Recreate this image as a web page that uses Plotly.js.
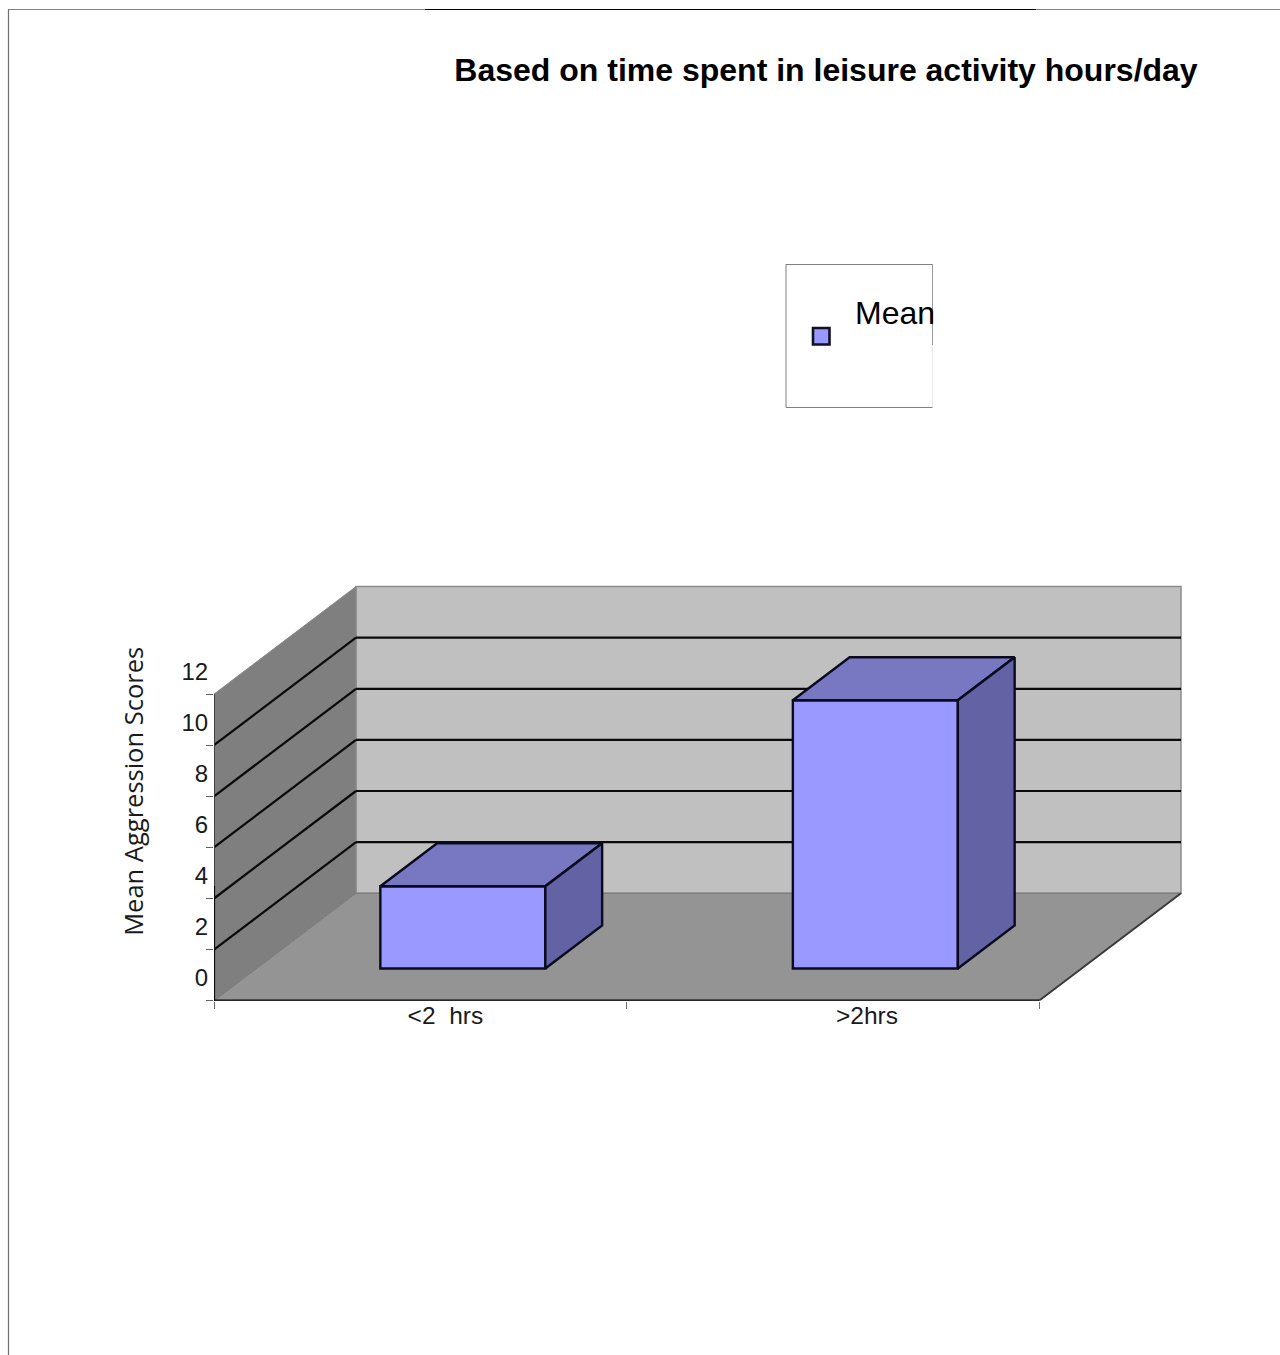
<!DOCTYPE html>
<html>
<head>
<meta charset="utf-8">
<script src="https://cdn.plot.ly/plotly-3.0.1.min.js"></script>
<style>html,body{margin:0;padding:0;background:#fff}#chart{width:1280px;height:1355px}</style>
</head>
<body>
<div id="chart"></div>
<script>
// Data
const categories = ['<2\u00a0\u00a0hrs', '>2hrs'];
const meanValues = [3.22, 10.5];
const seriesName = 'Mean';
const yTicks = [0, 2, 4, 6, 8, 10, 12];
const gridValues = [2, 4, 6, 8, 10];
const groupEdges = [0, 1, 2];
const labelPositions = [0.561, 1.583];

// Layout of the pseudo-3D box
const W = 1280, H = 1355;
const pxLeft = 214, pxRight = 1186, pxBottom = 1000.7, pxTop = 582;
const pxPerX = 412.5, pxPerY = 25.55;
const depthX = 142 / pxPerX, depthY = 107.5 / pxPerY;
const barWidth = 0.4, barFrontDepth = 0.3, barDepth = 0.4;
const yMax = 12, xMax = 2;

const poly = (pts, fill, lineColor, lineWidth) => ({
  type: 'path', xref: 'x', yref: 'y', layer: 'below',
  path: 'M' + pts.map(p => p[0] + ',' + p[1]).join('L') + 'Z',
  fillcolor: fill, line: {color: lineColor, width: lineWidth}
});
const seg = (a, b, color, width) => ({
  type: 'line', xref: 'x', yref: 'y', layer: 'below',
  x0: a[0], y0: a[1], x1: b[0], y1: b[1], line: {color, width}
});
const paperLine = (x0, y0, x1, y1, color, width) => ({
  type: 'line', xref: 'paper', yref: 'paper',
  x0: x0 / W, y0: 1 - y0 / H, x1: x1 / W, y1: 1 - y1 / H, line: {color, width}
});

const shapes = [
  poly([[depthX, depthY], [xMax + depthX, depthY], [xMax + depthX, yMax + depthY], [depthX, yMax + depthY]], '#c0c0c0', '#8c8c8c', 1.5),
  poly([[0, 0], [depthX, depthY], [depthX, yMax + depthY], [0, yMax]], '#7f7f7f', '#8a8a8a', 1),
  poly([[0, 0], [xMax, 0], [xMax + depthX, depthY], [depthX, depthY]], '#949494', '#777777', 1),
  seg([xMax, 0], [xMax + depthX, depthY], '#3a3a3a', 2)
];
gridValues.forEach(v => {
  shapes.push(seg([0, v], [depthX, v + depthY], '#0a0a0a', 2.2));
  shapes.push(seg([depthX, v + depthY], [xMax + depthX, v + depthY], '#0a0a0a', 2.2));
});

// Page frame and legend box
shapes.push(paperLine(8, 9.5, 425, 9.5, '#808080', 1.2));
shapes.push(paperLine(425, 9.5, 1036, 9.5, '#000000', 1.2));
shapes.push(paperLine(1036, 9.5, 1280, 9.5, '#808080', 1.2));
shapes.push(paperLine(8.5, 9, 8.5, 1355, '#707070', 1.2));
shapes.push(paperLine(786, 264.5, 932.5, 264.5, '#808080', 1));
shapes.push(paperLine(786, 264, 786, 407.5, '#808080', 1));
shapes.push(paperLine(786, 407.5, 932.5, 407.5, '#808080', 1));
shapes.push(paperLine(932.5, 264, 932.5, 345, '#9a9a9a', 1));
shapes.push(paperLine(932.5, 345, 932.5, 407, '#e8e8e8', 1));
shapes.push({
  type: 'rect', xref: 'paper', yref: 'paper',
  x0: 813 / W, x1: 829.5 / W, y0: 1 - 344.5 / H, y1: 1 - 328 / H,
  fillcolor: '#9999ff', line: {color: '#111122', width: 2.6}
});

const barX = groupEdges.slice(0, 2).map(e => e + 0.5 + barFrontDepth * depthX);
const barBase = barFrontDepth * depthY;
const ddx = barDepth * depthX, ddy = barDepth * depthY;
const edgeColor = '#0a0a1e';

const traces = [{
  type: 'bar', name: seriesName, x: barX, y: meanValues,
  base: meanValues.map(() => barBase), width: barWidth,
  marker: {color: '#9999ff', line: {color: edgeColor, width: 2.4}},
  showlegend: false, hoverinfo: 'y'
}];
const face = (pts, color) => ({
  type: 'scatter', mode: 'lines', fill: 'toself', fillcolor: color,
  x: pts.map(p => p[0]), y: pts.map(p => p[1]),
  line: {color: edgeColor, width: 2.4}, showlegend: false, hoverinfo: 'skip'
});
meanValues.forEach((v, i) => {
  const xl = barX[i] - barWidth / 2, xr = barX[i] + barWidth / 2, t = barBase + v;
  traces.push(face([[xl, t], [xr, t], [xr + ddx, t + ddy], [xl + ddx, t + ddy], [xl, t]], '#7878c2'));
  traces.push(face([[xr, barBase], [xr + ddx, barBase + ddy], [xr + ddx, t + ddy], [xr, t], [xr, barBase]], '#6262a4'));
});
// Front axis lines
traces.push({type: 'scatter', mode: 'lines', x: [0, xMax], y: [0, 0], cliponaxis: false,
  line: {color: '#050505', width: 2.2}, showlegend: false, hoverinfo: 'skip'});
traces.push({type: 'scatter', mode: 'lines', x: [0, 0], y: [0, 4.5], cliponaxis: false,
  line: {color: '#0a0a0a', width: 2.2}, showlegend: false, hoverinfo: 'skip'});
traces.push({type: 'scatter', mode: 'lines', x: [0, 0], y: [4.5, yMax], cliponaxis: false,
  line: {color: '#3a3a3a', width: 1.8}, showlegend: false, hoverinfo: 'skip'});

const layout = {
  width: W, height: H,
  margin: {l: 0, r: 0, t: 0, b: 0, pad: 0},
  paper_bgcolor: '#ffffff', plot_bgcolor: 'rgba(0,0,0,0)',
  showlegend: false,
  font: {family: '"Liberation Sans", Arial, sans-serif', color: '#111111'},
  title: {
    text: '<b>Based on time spent in leisure activity hours/day</b>',
    x: 826 / W, xanchor: 'center', y: 1 - 70 / H, yanchor: 'middle',
    font: {family: '"Liberation Sans", Arial, sans-serif', size: 32, color: '#000000'}
  },
  xaxis: {
    domain: [pxLeft / W, pxRight / W],
    range: [0, (pxRight - pxLeft) / pxPerX],
    showgrid: false, zeroline: false, showline: false,
    tickmode: 'array', tickvals: labelPositions, ticktext: categories,
    ticks: '', tickfont: {size: 24.5, color: '#1a1a1a'}, ticklabelstandoff: -2,
    minor: {tickmode: 'array', tickvals: groupEdges, ticks: 'outside', ticklen: 7, tickwidth: 1, tickcolor: '#707070', showgrid: false}
  },
  yaxis: {
    domain: [1 - pxBottom / H, 1 - pxTop / H],
    range: [0, (pxBottom - pxTop) / pxPerY],
    showgrid: false, zeroline: false, showline: false,
    tickmode: 'array', tickvals: yTicks, ticktext: yTicks.map(String),
    ticks: 'outside', ticklen: 7, tickwidth: 1, tickcolor: '#606060',
    tickfont: {size: 24, color: '#1a1a1a'}, ticklabelshift: -23, ticklabelstandoff: -7,
    title: {text: 'Mean Aggression Scores', standoff: 30,
      font: {family: '"Open Sans", sans-serif', size: 25.5, color: '#1a1a1a'}}
  },
  shapes,
  annotations: [{
    text: seriesName, xref: 'paper', yref: 'paper',
    x: 853 / W, xanchor: 'left', y: 1 - 313 / H, yanchor: 'middle', showarrow: false,
    font: {family: '"Liberation Sans", Arial, sans-serif', size: 32, color: '#000000'}
  }]
};
Plotly.newPlot('chart', traces, layout, {displayModeBar: false, responsive: false});
</script>
</body>
</html>
